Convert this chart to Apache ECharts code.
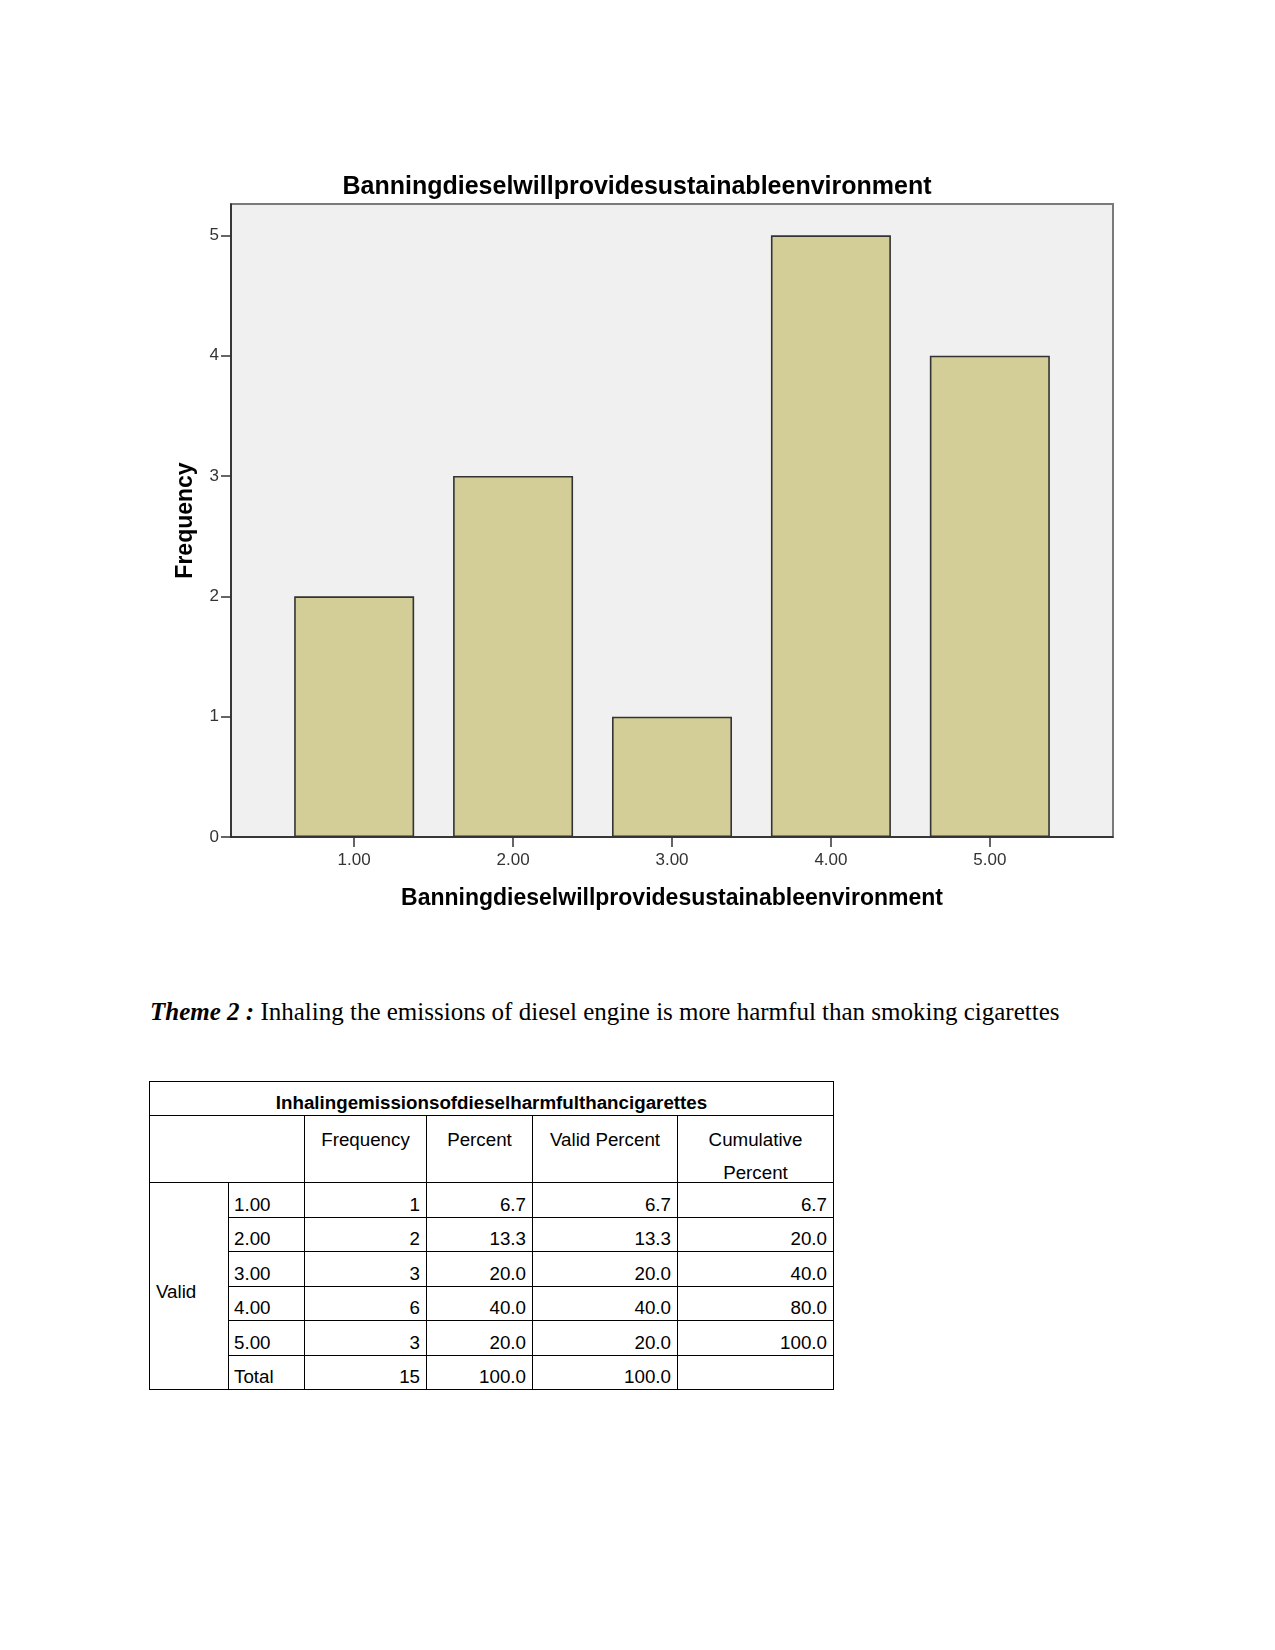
<!DOCTYPE html>
<html>
<head>
<meta charset="utf-8">
<script src="https://cdn.jsdelivr.net/npm/echarts@6/dist/echarts.min.js"></script>
<style>
  html, body { margin: 0; padding: 0; background: #fff; }
  #page { position: relative; width: 1275px; height: 1650px; overflow: hidden; background: #fff; }
  #chart { position: absolute; left: 0; top: 0; width: 1275px; height: 960px; }
  #theme { position: absolute; left: 150px; top: 995px; font-family: "Liberation Serif", "Times New Roman", serif; font-size: 25px; line-height: 34px; color: #000; white-space: nowrap; }
  #theme b { font-style: italic; }
  #tbl { position: absolute; left: 0; top: 0; font-family: "Liberation Sans", Arial, sans-serif; font-size: 18.75px; color: #000; }
  .cell { position: absolute; box-sizing: border-box; border-left: 1px solid #000; border-top: 1px solid #000; white-space: nowrap; overflow: visible; }
  .frame { position: absolute; box-sizing: border-box; border-right: 1px solid #000; border-bottom: 1px solid #000; }
</style>
</head>
<body>
<div id="page">
  <div id="chart"></div>
  <div id="theme"><b>Theme 2 :</b> Inhaling the emissions of diesel engine is more harmful than smoking cigarettes</div>
  <div id="tbl"></div>
</div>
<script>
// ---- Chart data ----
var chartTitle = 'Banningdieselwillprovidesustainableenvironment';
var xAxisTitle = 'Banningdieselwillprovidesustainableenvironment';
var yAxisTitle = 'Frequency';
var categoryValues = [1, 2, 3, 4, 5];
var frequencies = [2, 3, 1, 5, 4];
var yTicks = [0, 1, 2, 3, 4, 5];

// ---- Table data ----
var tableTitle = 'Inhalingemissionsofdieselharmfulthancigarettes';
var tableHeaders = ['Frequency', 'Percent', 'Valid Percent', 'Cumulative<br>Percent'];
var rowLabels = ['1.00', '2.00', '3.00', '4.00', '5.00', 'Total'];
var colFrequency = ['1', '2', '3', '6', '3', '15'];
var colPercent = ['6.7', '13.3', '20.0', '40.0', '20.0', '100.0'];
var colValidPercent = ['6.7', '13.3', '20.0', '40.0', '20.0', '100.0'];
var colCumulative = ['6.7', '20.0', '40.0', '80.0', '100.0', ''];
var groupLabel = 'Valid';

// ---- Chart ----
var chart = echarts.init(document.getElementById('chart'), null, { renderer: 'canvas' });
var barData = categoryValues.map(function (c, i) { return [c, frequencies[i]]; });
var sans = '"Liberation Sans", Arial, sans-serif';
chart.setOption({
  animation: false,
  backgroundColor: '#ffffff',
  graphic: [{
    type: 'text', x: 637, y: 187,
    style: { text: chartTitle, fill: '#000', font: 'bold 25px ' + sans, textAlign: 'center', textVerticalAlign: 'middle', align: 'center', verticalAlign: 'middle' }
  }],
  grid: {
    left: 231, top: 204, width: 882, height: 633,
    show: true, backgroundColor: '#f0f0f0', borderColor: '#7a7a7a', borderWidth: 2,
    containLabel: false, outerBoundsMode: 'none'
  },
  xAxis: {
    type: 'value', min: 0.225, max: 5.775,
    name: xAxisTitle, nameLocation: 'middle', nameGap: 50, nameMoveOverlap: false,
    nameTextStyle: { fontFamily: sans, fontWeight: 'bold', fontSize: 23, color: '#000' },
    axisLine: { show: true, onZero: false, lineStyle: { color: '#222', width: 1.5 } },
    axisTick: { show: true, length: 10, customValues: categoryValues, lineStyle: { color: '#333', width: 1.5 } },
    axisLabel: { customValues: categoryValues, margin: 15, fontFamily: sans, fontSize: 17, color: '#333', formatter: function (v) { return Number(v).toFixed(2); } },
    splitLine: { show: false }
  },
  yAxis: {
    type: 'value', min: 0, max: 5.26, interval: 1,
    name: yAxisTitle, nameLocation: 'middle', nameGap: 34, nameRotate: 90, nameMoveOverlap: false,
    nameTextStyle: { fontFamily: sans, fontWeight: 'bold', fontSize: 23, color: '#000' },
    axisLine: { show: true, lineStyle: { color: '#222', width: 1.5 } },
    axisTick: { show: true, length: 10, customValues: yTicks, lineStyle: { color: '#333', width: 1.5 } },
    axisLabel: { customValues: yTicks, margin: 12, fontFamily: sans, fontSize: 17, color: '#333' },
    splitLine: { show: false }
  },
  series: [{
    type: 'bar',
    data: barData,
    barWidth: 120,
    itemStyle: { color: '#d3ce97', borderColor: '#333333', borderWidth: 1.6 }
  }]
});

// ---- Table (HTML) ----
var colX = [149, 228, 304, 426, 532, 677, 833];
var rowY = [1081, 1115, 1182, 1217, 1251, 1286, 1320, 1355, 1389];
var tbl = document.getElementById('tbl');
function cell(x0, y0, x1, y1, html, css) {
  var d = document.createElement('div');
  d.className = 'cell';
  d.style.left = x0 + 'px'; d.style.top = y0 + 'px';
  d.style.width = (x1 - x0) + 'px'; d.style.height = (y1 - y0) + 'px';
  if (css) d.style.cssText += css;
  d.innerHTML = html;
  tbl.appendChild(d);
  return d;
}
var bottomText = 'display:flex;align-items:flex-end;line-height:25px;';
// title row
cell(colX[0], rowY[0], colX[6], rowY[1], '<b style="width:100%;text-align:center;display:block">' + tableTitle + '</b>', bottomText);
// header row
cell(colX[0], rowY[1], colX[2], rowY[2], '', '');
for (var h = 0; h < tableHeaders.length; h++) {
  cell(colX[h + 2], rowY[1], colX[h + 3], rowY[2],
    '<div style="position:relative;top:7px;line-height:33px;text-align:center;height:0;overflow:visible">' + tableHeaders[h] + '</div>', '');
}
// group label
cell(colX[0], rowY[2], colX[1], rowY[8], '<div style="position:absolute;left:6px;top:50%;transform:translateY(-50%);margin-top:5px;line-height:25px">' + groupLabel + '</div>', '');
var cols = [colFrequency, colPercent, colValidPercent, colCumulative];
for (var r = 0; r < rowLabels.length; r++) {
  var y0 = rowY[r + 2], y1 = rowY[r + 3];
  cell(colX[1], y0, colX[2], y1, '<span style="padding-left:5px">' + rowLabels[r] + '</span>', bottomText);
  for (var c = 0; c < cols.length; c++) {
    cell(colX[c + 2], y0, colX[c + 3], y1, '<span style="width:100%;text-align:right;display:block;padding-right:6px;box-sizing:border-box">' + cols[c][r] + '</span>', bottomText);
  }
}
var fr = document.createElement('div');
fr.className = 'frame';
fr.style.left = colX[0] + 'px'; fr.style.top = rowY[0] + 'px';
fr.style.width = (colX[6] - colX[0] + 1) + 'px'; fr.style.height = (rowY[8] - rowY[0] + 1) + 'px';
tbl.appendChild(fr);
</script>
</body>
</html>
